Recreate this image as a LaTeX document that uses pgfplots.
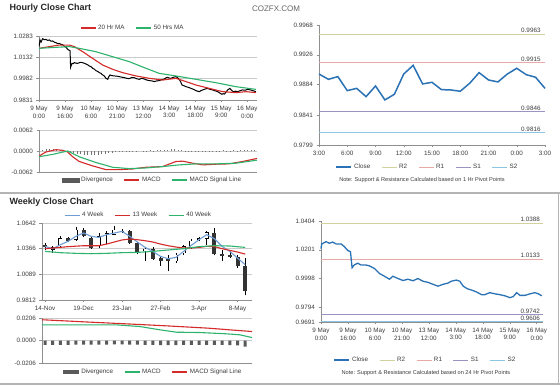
\documentclass[border=0pt]{standalone}
\usepackage{fontspec}
\setmainfont{Liberation Sans}
\usepackage{pgfplots}
\usepackage{pgfplotstable}
\pgfplotsset{compat=1.18}
\definecolor{maRed}{HTML}{D42A2A}
\definecolor{maGreen}{HTML}{2DB36C}
\definecolor{maBlue}{HTML}{6F9DD3}
\definecolor{closeBlue}{HTML}{2A72B5}
\definecolor{rTwo}{HTML}{D2D29E}
\definecolor{rOne}{HTML}{EAA9A9}
\definecolor{sOne}{HTML}{9E93C0}
\definecolor{sTwo}{HTML}{8BC7E1}
\definecolor{gridc}{HTML}{CACACA}
\definecolor{axc}{HTML}{8F8F8F}
\definecolor{txt}{HTML}{3C3C3C}
\definecolor{divc}{HTML}{5A5A5A}
\definecolor{candleDark}{HTML}{333333}
\definecolor{sepc}{HTML}{B4B4B4}

\newcommand{\tf}{\fontsize{6.3}{7.6}\selectfont}

% weekly candles: week index, low, body bottom, body top, high
\pgfplotstableread{
w L lo hi H
0 1.0354 1.0379 1.0408 1.0426
3 1.0437 1.0444 1.0480 1.0491
5 1.0487 1.0498 1.0570 1.0588
6 1.0365 1.0372 1.0480 1.0498
10 1.0534 1.0545 1.0559 1.0581
11 1.0415 1.0426 1.0559 1.0570
12 1.0307 1.0318 1.0426 1.0437
14 1.0246 1.0257 1.0365 1.0379
15 1.0182 1.0228 1.0264 1.0282
16 1.0120 1.0236 1.0250 1.0300
22 1.0293 1.0307 1.0534 1.0588
23 1.0228 1.0282 1.0307 1.0354
24 1.0264 1.0275 1.0293 1.0336
25 1.0156 1.0174 1.0279 1.0300
26 0.9861 0.9905 1.0174 1.0264
}\darkc
\pgfplotstableread{
w L lo hi H
1 1.0318 1.0354 1.0379 1.0397
2 1.0372 1.0390 1.0480 1.0498
4 1.0451 1.0462 1.0570 1.0595
7 1.0372 1.0390 1.0498 1.0534
8 1.0415 1.0516 1.0530 1.0552
9 1.0509 1.0516 1.0570 1.0606
13 1.0228 1.0336 1.0365 1.0379
17 1.0210 1.0228 1.0300 1.0318
18 1.0300 1.0318 1.0390 1.0408
19 1.0365 1.0372 1.0451 1.0469
20 1.0444 1.0459 1.0477 1.0487
21 1.0408 1.0473 1.0541 1.0552
}\whitec

\pgfplotsset{
  xl/.style={scale only axis, axis x line*=bottom, axis y line*=left,
    axis line style={axc, line width=0.6pt}, tick style={axc, line width=0.5pt},
    tick align=outside, major tick length=2.5pt,
    ticklabel style={font=\tf, text=txt},
    /pgf/number format/assume math mode=true,
    scaled ticks=false,
    grid style={gridc, line width=0.5pt},
    legend cell align=left,
    legend style={draw=none, fill=none, font=\tf, text=txt, legend columns=-1,
      /tikz/every even column/.append style={column sep=9pt}, inner sep=0pt},
    legend image code/.code={\draw[##1] (0pt,0pt) -- (15pt,0pt);},
  },
  ebar/.style 2 args={error bars/.cd, y dir=plus, y explicit, error mark=none,
    error bar style={draw=#1, line width=#2, line cap=butt}},
}

\begin{document}
\begin{tikzpicture}
\useasboundingbox (0,0) rectangle (560pt,386pt);
\fill[white] (0,0) rectangle (560pt,386pt);
\draw[sepc, line width=1.2pt] (0,193pt) -- (560pt,193pt);
\draw[sepc, line width=1.2pt] (0,2pt) -- (560pt,2pt);
\draw[sepc, line width=0.8pt] (558pt,2pt) -- (558pt,193pt);

\node[anchor=west, font=\bfseries\fontsize{9}{10}\selectfont, text=black!85] at (6pt,378pt) {Hourly Close Chart};
\node[font=\fontsize{8}{9}\selectfont, text=black!60] at (276pt,377pt) {COZFX.COM};
\node[anchor=west, font=\bfseries\fontsize{9}{10}\selectfont, text=black!85] at (6pt,184pt) {Weekly Close Chart};

% ---------- Hourly price ----------
\begin{axis}[xl, at={(39pt,286pt)}, anchor=south west, width=218pt, height=64pt,
  xmin=0, xmax=125.6, ymin=0.9831, ymax=1.0283,
  ytick={0.9831,0.9982,1.0132,1.0283}, yticklabels={0.9831,0.9982,1.0132,1.0283},
  ymajorgrids,
  xtick={0,15,...,120},
  xticklabels={{9 May\\0:00},{9 May\\16:00},{10 May\\6:00},{10 May\\21:00},{13 May\\12:00},{14 May\\3:00},{14 May\\18:00},{15 May\\9:00},{16 May\\0:00}},
  xticklabel style={align=center},
  legend style={at={(0.43,1.125)}, anchor=center}]
\addplot[black, line width=1pt, forget plot] coordinates {
(0,1.0208)(0.6,1.0255)(1.2,1.0240)(2.1,1.0264)(3,1.0257)(4.0,1.0259)(5,1.0252)(6.0,1.0255)(7,1.0246)(7.9,1.0248)(9,1.0238)(9.8,1.0236)(10.7,1.0229)(11.7,1.0231)(12.6,1.0224)(13.6,1.0222)(14.6,1.0210)(15.6,1.0203)(16.4,1.0190)(17.1,1.0184)(17.9,1.0179)(18.2,1.0062)(19.0,1.0090)(19.7,1.0088)(20.4,1.0095)(21.3,1.0091)(22.3,1.0090)(23.8,1.0097)(25.2,1.0095)(26.1,1.0090)(27.1,1.0085)(28,1.0080)(29.0,1.0071)(30,1.0066)(30.9,1.0055)(32,1.0048)(32.8,1.0038)(33.8,1.0033)(34.8,1.0024)(35.7,1.0019)(36.7,1.0008)(37.6,1.0001)(38.6,0.9984)(39.6,0.9977)(40.2,0.9995)(40.9,1.0008)(42,1.0003)(43.4,1.0001)(45,0.9999)(46.3,0.9996)(47.8,0.9992)(49.2,0.9989)(50.6,0.9984)(52.0,0.9982)(53.5,0.9990)(54.9,0.9989)(56.3,0.9981)(57.8,0.9977)(59.2,0.9984)(60.7,0.9979)(62.1,0.9972)(63.6,0.9968)(65,0.9966)(66.4,0.9961)(67.9,0.9966)(69.3,0.9968)(70.8,0.9975)(72.2,0.9979)(73.2,0.9988)(74.1,0.9991)(75,0.9986)(76.0,0.9984)(77.5,0.9992)(78.9,0.9996)(79.9,0.9988)(80.8,0.9977)(81.6,0.9960)(82.4,0.9937)(83.5,0.9932)(84.7,0.9925)(86.2,0.9920)(87.6,0.9913)(89,0.9906)(90.4,0.9897)(91.4,0.9893)(92.4,0.9890)(93.3,0.9897)(94.3,0.9902)(95.8,0.9909)(97.2,0.9913)(98.6,0.9906)(100.0,0.9902)(101.5,0.9896)(102.9,0.9890)(104.2,0.9880)(105.4,0.9871)(106.1,0.9876)(106.9,0.9873)(107.8,0.9888)(108.7,0.9902)(110.0,0.9913)(110.9,0.9900)(111.9,0.9890)(113.1,0.9893)(114.4,0.9890)(115.9,0.9897)(117.3,0.9902)(118.8,0.9900)(120.2,0.9906)(121.6,0.9903)(123.1,0.9897)(124,0.9894)(125.0,0.9890)};
\addplot[maRed, line width=1.1pt] coordinates {
(0,1.0196)(6.0,1.0208)(11.7,1.0219)(17.5,1.0219)(20.4,1.0208)(25.2,1.0172)(30.9,1.0125)(36.7,1.0078)(42.4,1.0048)(48.2,1.0024)(55.9,1.0001)(63.6,0.9984)(71.2,0.9972)(78.9,0.9984)(84.7,0.9961)(90.4,0.9937)(98.1,0.9913)(105.8,0.9890)(113.5,0.9883)(119.2,0.9890)(125.0,0.9883)};
\addlegendentry{20 Hr MA}
\addplot[maGreen, line width=1.1pt] coordinates {
(0,1.0196)(9.8,1.0203)(17.5,1.0208)(23.2,1.0196)(32.8,1.0172)(42.4,1.0137)(52.0,1.0102)(61.6,1.0055)(69.3,1.0019)(78.9,1.0001)(90.4,0.9977)(102.0,0.9953)(113.5,0.9925)(125.0,0.9906)};
\addlegendentry{50 Hrs MA}
\end{axis}

% ---------- Hourly MACD ----------
\begin{axis}[xl, at={(39pt,214pt)}, anchor=south west, width=218pt, height=42pt,
  xmin=0, xmax=125.6, ymin=-0.0062, ymax=0.0062,
  ytick={-0.0062,0,0.0062}, yticklabels={-0.0062,0.0000,0.0062},
  ymajorgrids, xtick=\empty,
  legend style={at={(0.52,-0.19)}, anchor=center}]
\addplot[ycomb, color=black!55, line width=0.5pt, mark=none,
  legend image code/.code={\fill[divc] (0pt,-2.2pt) rectangle (17pt,2.2pt);}] coordinates {
(2,0.0003)(4,0.0005)(6,0.0006)(8,0.0006)(10,0.0005)(12,0.0004)(14,0.0002)(16,0.0000)(18,-0.0003)(20,-0.0006)(22,-0.0008)(24,-0.0010)(26,-0.0011)(28,-0.0012)(30,-0.0012)(32,-0.0012)(34,-0.0011)(36,-0.0010)(38,-0.0008)(40,-0.0007)(42,-0.0005)(44,-0.0004)(46,-0.0003)(48,-0.0002)(50,-0.0001)(52,0.0001)(54,-0.0001)(56,0.0001)(58,0.0000)(60,0.0001)(62,0.0001)(64,0.0002)(66,0.0001)(68,0.0002)(70,0.0002)(72,0.0003)(74,0.0004)(76,0.0005)(78,0.0005)(80,0.0004)(82,0.0002)(84,0.0001)(86,-0.0001)(88,-0.0002)(90,-0.0002)(92,-0.0001)(94,0.0001)(96,0.0001)(98,-0.0001)(100,-0.0001)(102,0.0001)(104,0.0001)(106,0.0002)(108,0.0001)(110,0.0001)(112,0.0002)(114,0.0001)(116,0.0002)(118,0.0002)(120,0.0003)(122,0.0003)(124,0.0003)};
\addlegendentry{Divergence}
\addplot[maRed, line width=1.1pt] coordinates {
(0,-0.0015)(4.0,-0.0003)(9.8,0.0004)(13.6,0.0002)(16.5,-0.0003)(19.4,-0.0017)(23.2,-0.0031)(30.9,-0.0044)(38.6,-0.0055)(46.3,-0.0055)(54.0,-0.0053)(61.6,-0.0048)(71.2,-0.0046)(78.9,-0.0031)(82.8,-0.0030)(88.5,-0.0036)(94.3,-0.0041)(102.0,-0.0039)(109.6,-0.0038)(117.3,-0.0031)(125.6,-0.0022)};
\addlegendentry{MACD}
\addplot[maGreen, line width=1.1pt] coordinates {
(0,-0.0017)(7.9,-0.0010)(16.5,0.0000)(23.2,-0.0017)(32.8,-0.0034)(42.4,-0.0048)(52.0,-0.0052)(61.6,-0.0050)(71.2,-0.0046)(80.8,-0.0041)(90.4,-0.0038)(102.0,-0.0038)(113.5,-0.0036)(125.6,-0.0027)};
\addlegendentry{MACD Signal Line}
\end{axis}

% ---------- Hourly 1 day with pivots ----------
\begin{axis}[xl, at={(319pt,241pt)}, anchor=south west, width=226pt, height=120pt,
  xmin=0, xmax=24, ymin=0.9799, ymax=0.9968, clip=false,
  ytick={0.9799,0.9841,0.9884,0.9926,0.9968}, yticklabels={0.9799,0.9841,0.9884,0.9926,0.9968},
  xtick={0,3,...,24}, xticklabels={3:00,6:00,9:00,12:00,15:00,18:00,21:00,0:00,3:00},
  legend style={at={(0.48,-0.183)}, anchor=center}]
\addlegendimage{closeBlue, line width=1.6pt}\addlegendentry{Close}
\addlegendimage{rTwo, line width=0.9pt}\addlegendentry{R2}
\addlegendimage{rOne, line width=0.9pt}\addlegendentry{R1}
\addlegendimage{sOne, line width=0.9pt}\addlegendentry{S1}
\addlegendimage{sTwo, line width=0.9pt}\addlegendentry{S2}
\addplot[rTwo, line width=0.9pt, forget plot] coordinates {(0,0.9955)(24,0.9955)};
\addplot[rOne, line width=0.9pt, forget plot] coordinates {(0,0.9915)(24,0.9915)};
\addplot[sOne, line width=0.9pt, forget plot] coordinates {(0,0.9846)(24,0.9846)};
\addplot[sTwo, line width=0.9pt, forget plot] coordinates {(0,0.9816)(24,0.9816)};
\addplot[closeBlue, line width=1.5pt, forget plot] coordinates {
(0,0.9899)(1,0.98915)(2,0.98953)(3,0.98756)(4,0.98788)(5,0.98671)(6,0.98821)(7,0.98625)(8,0.98704)(9,0.9899)(10,0.99112)(11,0.9885)(12,0.98873)(13,0.9877)(14,0.98765)(15,0.98747)(16,0.98859)(17,0.99009)(18,0.98906)(19,0.98878)(20,0.9899)(21,0.9907)(22,0.98981)(23,0.98944)(24,0.98788)};
\node[anchor=south, font=\tf, text=txt, inner sep=1.2pt] at (axis cs:22.5,0.9955) {0.9963};
\node[anchor=south, font=\tf, text=txt, inner sep=1.2pt] at (axis cs:22.5,0.9915) {0.9915};
\node[anchor=south, font=\tf, text=txt, inner sep=1.2pt] at (axis cs:22.5,0.9846) {0.9846};
\node[anchor=south, font=\tf, text=txt, inner sep=1.2pt] at (axis cs:22.5,0.9816) {0.9816};
\end{axis}
\node[font=\fontsize{5.6}{6.5}\selectfont, text=txt] at (422pt,206pt) {Note: Support \& Resistance Calculated based on 1 Hr Pivot Points};

% legend of the weekly price chart, in an overlay axis drawn before any error bars
\begin{axis}[xl, hide axis, at={(42pt,86pt)}, anchor=south west, width=210pt, height=77pt,
  xmin=0, xmax=1, ymin=0, ymax=1,
  legend style={at={(0.46,1.10)}, anchor=center}]
\addlegendimage{draw=maBlue, line width=1.1pt, error bars/y dir=none}\addlegendentry{4 Week}
\addlegendimage{draw=maRed, line width=1.1pt, error bars/y dir=none}\addlegendentry{13 Week}
\addlegendimage{draw=maGreen, line width=1.1pt, error bars/y dir=none}\addlegendentry{40 Week}
\end{axis}

% ---------- Weekly price ----------
\begin{axis}[xl, at={(42pt,86pt)}, anchor=south west, width=210pt, height=77pt,
  xmin=-0.39, xmax=26.88, ymin=0.9812, ymax=1.0642,
  ytick={0.9812,1.0089,1.0366,1.0642}, yticklabels={0.9812,1.0089,1.0366,1.0642},
  ymajorgrids,
  xtick={0,5,...,25}, xticklabels={14-Nov,19-Dec,23-Jan,27-Feb,3-Apr,8-May}]
\addplot[forget plot, draw=none, mark=none, ebar={black}{0.5pt}] table[x=w, y=L, y error plus expr=\thisrow{H}-\thisrow{L}] {\darkc};
\addplot[forget plot, draw=none, mark=none, ebar={black}{0.5pt}] table[x=w, y=L, y error plus expr=\thisrow{H}-\thisrow{L}] {\whitec};
\addplot[forget plot, draw=none, mark=none, ebar={candleDark}{4pt}] table[x=w, y=lo, y error plus expr=\thisrow{hi}-\thisrow{lo}] {\darkc};
\addplot[forget plot, draw=none, mark=none, ebar={black}{4pt}] table[x=w, y=lo, y error plus expr=\thisrow{hi}-\thisrow{lo}] {\whitec};
\addplot[forget plot, draw=none, mark=none, error bars/.cd, y dir=plus, y explicit, error mark=none,
  error bar style={draw=white, line width=3pt, line cap=butt, shorten <=0.5pt, shorten >=0.5pt}] table[x=w, y=lo, y error plus expr=\thisrow{hi}-\thisrow{lo}] {\whitec};
\addplot[maBlue, line width=1.1pt, forget plot] coordinates {
(0,1.0390)(1,1.0365)(2,1.0408)(3,1.0444)(4,1.0498)(5,1.0534)(6,1.0498)(7,1.0487)(8,1.0516)(9,1.0534)(10,1.0552)(11,1.0498)(12,1.0437)(13,1.0379)(14,1.0336)(15,1.0282)(16,1.0257)(17,1.0271)(18,1.0336)(19,1.0401)(20,1.0462)(21,1.0516)(22,1.0473)(23,1.0390)(24,1.0336)(25,1.0264)(26,1.0192)};
\addplot[maRed, line width=1.1pt, forget plot] coordinates {
(0,1.0365)(1,1.0372)(3,1.0387)(5,1.0397)(7,1.0397)(8,1.0415)(9,1.0437)(10,1.0459)(11,1.0469)(12,1.0462)(13,1.0451)(14,1.0437)(15,1.0415)(16,1.0397)(17,1.0383)(18,1.0372)(19,1.0372)(20,1.0379)(21,1.0390)(22,1.0387)(23,1.0365)(24,1.0347)(25,1.0329)(26,1.0307)};
\addplot[maGreen, line width=1.1pt, forget plot] coordinates {
(0,1.0336)(2,1.0322)(4,1.0315)(6,1.0311)(8,1.0315)(10,1.0322)(12,1.0325)(14,1.0336)(16,1.0351)(18,1.0365)(20,1.0387)(22,1.0397)(24,1.0394)(26,1.0379)};
\end{axis}

% ---------- Weekly MACD ----------
\begin{axis}[xl, at={(42pt,23pt)}, anchor=south west, width=210pt, height=45pt,
  xmin=-0.39, xmax=26.88, ymin=-0.0206, ymax=0.0206,
  ytick={-0.0206,0,0.0206}, yticklabels={-0.0206,0.0000,0.0206},
  ymajorgrids, xtick=\empty,
  legend style={at={(0.53,-0.2)}, anchor=center}]
\addplot[ybar, bar width=3pt, fill=divc, draw=none,
  legend image code/.code={\fill[divc] (0pt,-2.2pt) rectangle (16pt,2.2pt);}] coordinates {
(0,-0.0040)(1,-0.0040)(2,-0.0040)(3,-0.0040)(4,-0.0038)(5,-0.0038)(6,-0.0038)(7,-0.0037)(8,-0.0037)(9,-0.0036)(10,-0.0036)(11,-0.0037)(12,-0.0038)(13,-0.0040)(14,-0.0041)(15,-0.0042)(16,-0.0042)(17,-0.0042)(18,-0.0041)(19,-0.0040)(20,-0.0040)(21,-0.0039)(22,-0.0040)(23,-0.0041)(24,-0.0042)(25,-0.0045)(26,-0.0055)};
\addlegendentry{Divergence}
\addplot[maGreen, line width=1.1pt] coordinates {
(-0.39,0.0143)(5,0.0143)(9.3,0.0143)(12.3,0.0128)(14.9,0.0098)(17.1,0.0076)(20.1,0.0073)(23.6,0.0061)(25.3,0.0052)(26.88,0.0027)};
\addlegendentry{MACD}
\addplot[maRed, line width=1.1pt] coordinates {
(-0.39,0.0190)(5,0.0171)(10.4,0.0153)(15.8,0.0134)(21.2,0.0113)(26.88,0.0082)};
\addlegendentry{MACD Signal Line}
\end{axis}

% ---------- Hourly week with 24h pivots ----------
\begin{axis}[xl, at={(321pt,64pt)}, anchor=south west, width=222pt, height=101pt,
  xmin=0, xmax=123.5, ymin=0.9691, ymax=1.0404, clip=false,
  ytick={0.9691,0.9794,0.9998,1.0201,1.0404}, yticklabels={0.9691,0.9794,0.9998,1.0201,1.0404},
  xtick={0,15,...,120},
  xticklabels={{9 May\\0:00},{9 May\\16:00},{10 May\\6:00},{10 May\\21:00},{13 May\\12:00},{14 May\\3:00},{14 May\\18:00},{15 May\\9:00},{16 May\\0:00}},
  xticklabel style={align=center},
  legend style={at={(0.47,-0.376)}, anchor=center}]
\addlegendimage{closeBlue, line width=1.6pt}\addlegendentry{Close}
\addlegendimage{rTwo, line width=0.9pt}\addlegendentry{R2}
\addlegendimage{rOne, line width=0.9pt}\addlegendentry{R1}
\addlegendimage{sOne, line width=0.9pt}\addlegendentry{S1}
\addlegendimage{sTwo, line width=0.9pt}\addlegendentry{S2}
\addplot[rTwo, line width=0.9pt, forget plot] coordinates {(0,1.0388)(123.5,1.0388)};
\addplot[rOne, line width=0.9pt, forget plot] coordinates {(0,1.0133)(123.5,1.0133)};
\addplot[sOne, line width=0.9pt, forget plot] coordinates {(0,0.9742)(123.5,0.9742)};
\addplot[sTwo, line width=1.2pt, forget plot] coordinates {(0,0.9692)(123.5,0.9692)};
\addplot[closeBlue, line width=1.3pt, forget plot] coordinates {
(0,1.0209)(0.4,1.0242)(2.8,1.0258)(4.7,1.0247)(6.5,1.0255)(8.4,1.0242)(11.2,1.0242)(13.0,1.0223)(14.9,1.0196)(16.4,1.0187)(17.3,1.0074)(18.6,1.0095)(20.5,1.0106)(22.3,1.0093)(25.1,1.0093)(27.0,1.0087)(29.8,1.0068)(32.6,1.0033)(35.3,1.0014)(38.1,0.9993)(40.0,1.0014)(42.8,0.9998)(45.6,0.9984)(48.4,0.9993)(51.2,0.9982)(53.9,0.9998)(56.7,0.9979)(59.5,0.9971)(62.3,0.9957)(65.1,0.9944)(67.9,0.9957)(70.7,0.9966)(72.5,0.9979)(75.3,0.9987)(77.2,0.9979)(79.1,0.9944)(81.5,0.9925)(83.7,0.9917)(86.5,0.9903)(89.3,0.9884)(91.1,0.9884)(93.9,0.9898)(96.7,0.9890)(99.5,0.9884)(102.3,0.9876)(105.1,0.9863)(107.0,0.9871)(108.8,0.9898)(110.7,0.9879)(113.5,0.9879)(116.3,0.9890)(119.0,0.9898)(120.9,0.9890)(122.8,0.9876)};
\node[anchor=south, font=\tf, text=txt, inner sep=1.2pt] at (axis cs:116.4,1.0388) {1.0388};
\node[anchor=south, font=\tf, text=txt, inner sep=1.2pt] at (axis cs:116.4,1.0133) {1.0133};
\node[anchor=south, font=\tf, text=txt, inner sep=1.2pt] at (axis cs:116.4,0.9742) {0.9742};
\node[anchor=south, font=\tf, text=txt, inner sep=1.2pt] at (axis cs:116.4,0.9692) {0.9606};
\end{axis}
\node[font=\fontsize{5.6}{6.5}\selectfont, text=txt] at (426pt,13pt) {Note: Support \& Resistance Calculated based on 24 Hr Pivot Points};
\end{tikzpicture}
\end{document}
